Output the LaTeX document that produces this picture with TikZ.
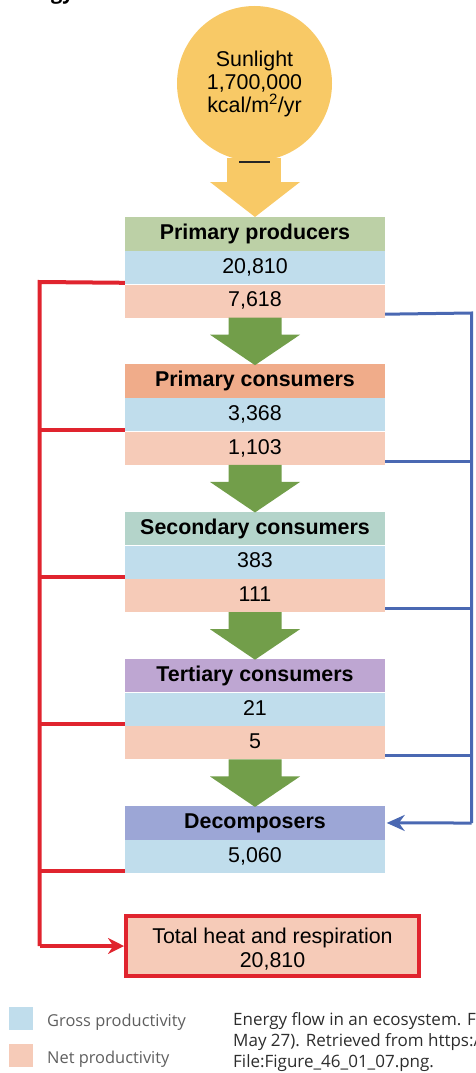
\documentclass[tikz,border=0pt]{standalone}
\usepackage{fontspec}
\setmainfont{Liberation Sans}
\newfontfamily\osans{Open Sans}
\usetikzlibrary{arrows.meta}
\definecolor{sunyel}{RGB}{248,201,102}
\definecolor{grossblue}{RGB}{192,221,236}
\definecolor{netsalmon}{RGB}{246,203,184}
\definecolor{hdpp}{RGB}{188,208,166}
\definecolor{hdpc}{RGB}{240,172,138}
\definecolor{hdsc}{RGB}{180,212,202}
\definecolor{hdtc}{RGB}{190,166,210}
\definecolor{hddc}{RGB}{156,166,214}
\definecolor{arrgreen}{RGB}{114,158,74}
\definecolor{respred}{RGB}{224,36,46}
\definecolor{flowblue}{RGB}{74,104,178}
\definecolor{legendgray}{RGB}{95,95,95}
\definecolor{captiongray}{RGB}{45,45,45}
\tikzset{
  boxfont/.style={font=\fontsize{21.4}{24}\selectfont},
  row/.style={rectangle, minimum width=260pt, minimum height=33pt, inner sep=0pt,
    anchor=north, text height=15.5pt, text depth=4pt, boxfont},
  header/.style={row, minimum height=33.5pt, font=\fontsize{21.4}{24}\selectfont\bfseries},
  gross/.style={row, fill=grossblue},
  net/.style={row, fill=netsalmon},
  redline/.style={draw=respred, line width=4pt},
  blueline/.style={draw=flowblue, line width=3pt},
  legtext/.style={anchor=base west, text=legendgray, font=\osans\fontsize{16.4}{20}\selectfont},
  captext/.style={anchor=base west, text=captiongray, font=\osans\fontsize{17}{20}\selectfont},
  blockarr/.pic={\fill[#1] (-26.5,0) -- (26.5,0) -- (26.5,17) -- (45,17) -- (0,47.5)
     -- (-45,17) -- (-26.5,17) -- cycle;}
}
\begin{document}
\begin{tikzpicture}[x=1pt,y=-1pt]
\useasboundingbox (0,0) rectangle (476,1073);
\clip (0,0) rectangle (476,1073);

% clipped title
\node[anchor=base east, inner sep=0pt, font=\osans\bfseries\fontsize{20}{24}\selectfont] (title) at (74,0) {Energy};

% sunlight
\fill[sunyel] (227,158) rectangle (281,182.5);
\fill[sunyel] (210,182) -- (300,182) -- (255,217) -- cycle;
\node[circle, fill=sunyel, minimum size=155pt, inner sep=0pt] (sun) at (254.5,83.5) {};
\node[align=center, font=\fontsize{21.4}{23}\selectfont] (suntext) at (sun.center)
  {Sunlight\\1,700,000\\kcal/m\textsuperscript{2}/yr};
\draw[line width=1.6pt, black!85] (239,162) -- (270,162);

% Primary producers
\node[header, fill=hdpp] (pp1) at (255,217) {Primary producers};
\node[gross] (pp2) at (pp1.south) {20,810};
\node[net] (pp3) at (pp2.south) {7,618};
% Primary consumers
\node[header, fill=hdpc] (pc1) at (255,364.25) {Primary consumers};
\node[gross] (pc2) at (pc1.south) {3,368};
\node[net] (pc3) at (pc2.south) {1,103};
% Secondary consumers
\node[header, fill=hdsc] (sc1) at (255,511.5) {Secondary consumers};
\node[gross] (sc2) at (sc1.south) {383};
\node[net] (sc3) at (sc2.south) {111};
% Tertiary consumers
\node[header, fill=hdtc] (tc1) at (255,658.75) {Tertiary consumers};
\node[gross] (tc2) at (tc1.south) {21};
\node[net] (tc3) at (tc2.south) {5};
% Decomposers
\node[header, fill=hddc] (dc1) at (255,806) {Decomposers};
\node[gross] (dc2) at (dc1.south) {5,060};

% green block arrows
\pic at (pp3.south) {blockarr=arrgreen};
\pic at (pc3.south) {blockarr=arrgreen};
\pic at (sc3.south) {blockarr=arrgreen};
\pic at (tc3.south) {blockarr=arrgreen};

% total heat
\node[rectangle, draw=respred, line width=4pt, fill=netsalmon, minimum width=293pt,
  minimum height=60pt, inner sep=0pt] (total) at (272.5,946) {};
\node[align=center, inner sep=0pt, font=\fontsize{21.4}{24}\selectfont] (totaltext)
  at ([yshift=-3pt]total.center) {Total heat and respiration\\20,810};

% red respiration lines
\coordinate (rtop) at (39.5,282);
\coordinate (rbot) at (39.5,946);
\draw[redline] ([yshift=1.5pt]pp2.south west) -- (rtop) -- (rbot);
\draw[redline] ([yshift=2pt]pc2.south west) -- ([yshift=2pt]pc2.south west -| rtop);
\draw[redline] ([yshift=2pt]sc2.south west) -- ([yshift=2pt]sc2.south west -| rtop);
\draw[redline] ([yshift=2pt]tc2.south west) -- ([yshift=2pt]tc2.south west -| rtop);
\draw[redline] ([yshift=2pt]dc2.south west) -- ([yshift=2pt]dc2.south west -| rtop);
\draw[redline, -{Stealth[length=16pt,width=16pt]}] (rbot) -- (total.west);

% blue flow to decomposers
\coordinate (btop) at (471.5,313);
\coordinate (bbot) at (471.5,823);
\draw[blueline] ([yshift=3.5pt]pp3.south east) -- (btop) -- (bbot);
\draw[blueline] ([yshift=3.5pt]pc3.south east) -- ([yshift=3.5pt]pc3.south east -| btop);
\draw[blueline] ([yshift=3.5pt]sc3.south east) -- ([yshift=3.5pt]sc3.south east -| btop);
\draw[blueline] ([yshift=3.5pt]tc3.south east) -- ([yshift=3.5pt]tc3.south east -| btop);
\draw[blueline, -{Stealth[length=18pt,width=16pt]}] (bbot) -- ([xshift=1.5pt]dc1.east);

% legend
\node[rectangle, fill=grossblue, minimum width=24pt, minimum height=23pt, inner sep=0pt] (lg) at (21,1018.5) {};
\node[rectangle, fill=netsalmon, minimum width=24pt, minimum height=23pt, inner sep=0pt] (ln) at (21,1055.5) {};
\node[legtext, inner sep=0pt] (lgt) at (47,1026) {Gross productivity};
\node[legtext, inner sep=0pt] (lnt) at (47,1063) {Net productivity};

% caption
\node[captext, inner sep=0pt] (cap1) at (233,1025) {Energy flow in an ecosystem. F};
\node[captext, inner sep=0pt] (cap2) at (233,1046) {May 27). Retrieved from https:/};
\node[captext, inner sep=0pt] (cap3) at (233,1067) {File:Figure\_46\_01\_07.png.};
\end{tikzpicture}
\end{document}
